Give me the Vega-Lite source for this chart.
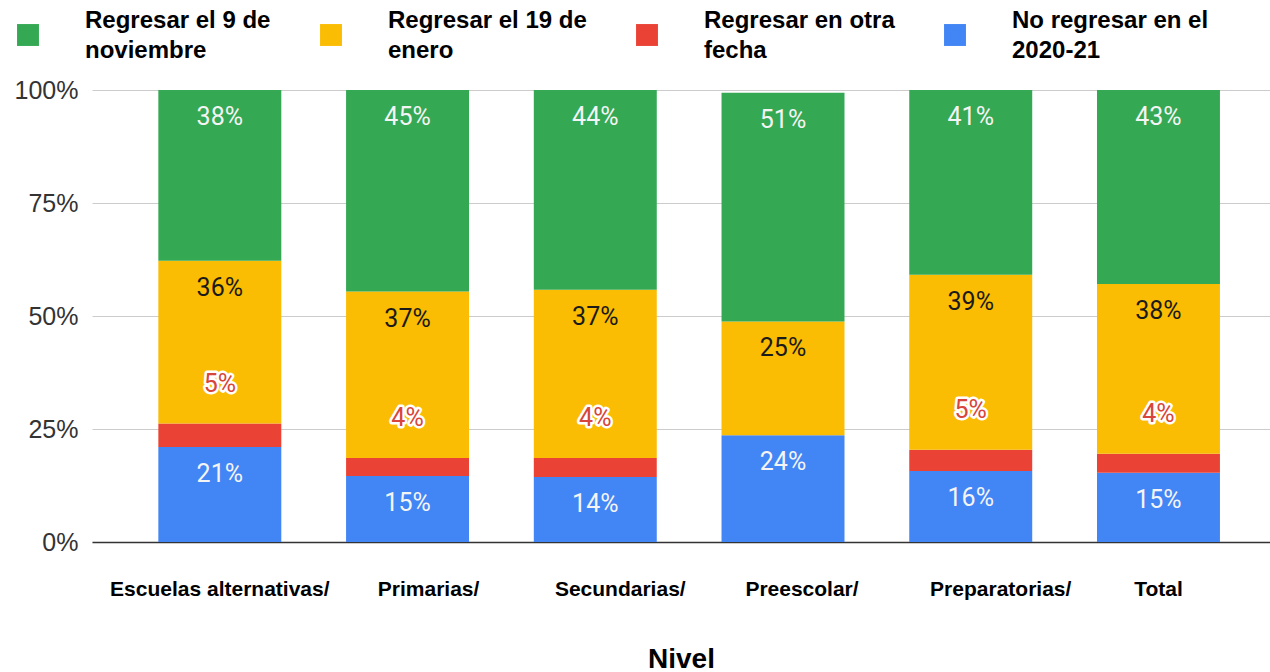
{
  "$schema": "https://vega.github.io/schema/vega-lite/v6.json",
  "width": 1178,
  "height": 452,
  "autosize": {"type": "none"},
  "padding": {"left": 92, "top": 90, "right": 0, "bottom": 130},
  "background": "white",
  "config": {
    "view": {"stroke": null},
    "style": {"guide-label": {"lineHeight": 30}}
  },
  "data": {
    "values": [
      {"nivel": "Escuelas alternativas/", "serie": "No regresar en el 2020-21", "v": 0.21},
      {"nivel": "Escuelas alternativas/", "serie": "Regresar en otra fecha", "v": 0.052},
      {"nivel": "Escuelas alternativas/", "serie": "Regresar el 19 de enero", "v": 0.36},
      {"nivel": "Escuelas alternativas/", "serie": "Regresar el 9 de noviembre", "v": 0.378},
      {"nivel": "Primarias/", "serie": "No regresar en el 2020-21", "v": 0.146},
      {"nivel": "Primarias/", "serie": "Regresar en otra fecha", "v": 0.04},
      {"nivel": "Primarias/", "serie": "Regresar el 19 de enero", "v": 0.368},
      {"nivel": "Primarias/", "serie": "Regresar el 9 de noviembre", "v": 0.446},
      {"nivel": "Secundarias/", "serie": "No regresar en el 2020-21", "v": 0.144},
      {"nivel": "Secundarias/", "serie": "Regresar en otra fecha", "v": 0.042},
      {"nivel": "Secundarias/", "serie": "Regresar el 19 de enero", "v": 0.372},
      {"nivel": "Secundarias/", "serie": "Regresar el 9 de noviembre", "v": 0.442},
      {"nivel": "Preescolar/", "serie": "No regresar en el 2020-21", "v": 0.236},
      {"nivel": "Preescolar/", "serie": "Regresar el 19 de enero", "v": 0.252},
      {"nivel": "Preescolar/", "serie": "Regresar el 9 de noviembre", "v": 0.506},
      {"nivel": "Preparatorias/", "serie": "No regresar en el 2020-21", "v": 0.157},
      {"nivel": "Preparatorias/", "serie": "Regresar en otra fecha", "v": 0.047},
      {"nivel": "Preparatorias/", "serie": "Regresar el 19 de enero", "v": 0.387},
      {"nivel": "Preparatorias/", "serie": "Regresar el 9 de noviembre", "v": 0.409},
      {"nivel": "Total", "serie": "No regresar en el 2020-21", "v": 0.153},
      {"nivel": "Total", "serie": "Regresar en otra fecha", "v": 0.042},
      {"nivel": "Total", "serie": "Regresar el 19 de enero", "v": 0.376},
      {"nivel": "Total", "serie": "Regresar el 9 de noviembre", "v": 0.429}
    ]
  },
  "transform": [
    {"calculate": "indexof(['No regresar en el 2020-21','Regresar en otra fecha','Regresar el 19 de enero','Regresar el 9 de noviembre'], datum.serie)", "as": "o"},
    {"stack": "v", "groupby": ["nivel"], "sort": [{"field": "o", "order": "ascending"}], "as": ["y0", "y1"]}
  ],
  "encoding": {
    "x": {
      "field": "nivel",
      "type": "nominal",
      "sort": null,
      "scale": {"paddingInner": 0.345, "paddingOuter": 0.31, "align": 0.57},
      "axis": {
        "title": "Nivel",
        "titleFont": "Liberation Sans",
        "titleFontWeight": "bold",
        "titleFontSize": 28,
        "titleColor": "black",
        "titlePadding": 46,
        "labelFont": "Liberation Sans",
        "labelFontWeight": "bold",
        "labelFontSize": 21,
        "labelColor": "black",
        "labelAngle": 0,
        "labelPadding": 36,
        "labelLimit": 400,
        "labelOffset": {
          "condition": [
            {"test": "datum.label == 'Primarias/'", "value": 21},
            {"test": "datum.label == 'Secundarias/'", "value": 25},
            {"test": "datum.label == 'Preescolar/'", "value": 19},
            {"test": "datum.label == 'Preparatorias/'", "value": 30}
          ],
          "value": 0
        },
        "ticks": false,
        "domain": true,
        "domainColor": "#333333",
        "domainWidth": 1.5,
        "grid": false
      }
    },
    "y": {
      "field": "y1",
      "type": "quantitative",
      "scale": {"domain": [0, 1]},
      "axis": {
        "title": null,
        "format": ".0%",
        "values": [0, 0.25, 0.5, 0.75, 1],
        "labelFont": "Liberation Sans",
        "labelFontSize": 25,
        "labelColor": "#333333",
        "labelPadding": 14,
        "ticks": false,
        "domain": false,
        "grid": true,
        "gridColor": "#cccccc",
        "gridWidth": 1
      }
    }
  },
  "layer": [
    {
      "mark": {"type": "bar"},
      "encoding": {
        "y2": {"field": "y0"},
        "color": {
          "field": "serie",
          "type": "nominal",
          "scale": {
            "domain": ["Regresar el 9 de noviembre", "Regresar el 19 de enero", "Regresar en otra fecha", "No regresar en el 2020-21"],
            "range": ["#34a853", "#fbbc04", "#ea4335", "#4285f4"]
          },
          "legend": {
            "title": null,
            "orient": "none",
            "legendX": -76,
            "legendY": -67,
            "direction": "horizontal",
            "columns": 4,
            "symbolType": "square",
            "symbolSize": 480,
            "symbolStrokeWidth": 0,
            "symbolOpacity": 1,
            "labelFont": "Liberation Sans",
            "labelFontWeight": "bold",
            "labelFontSize": 24,
            "labelColor": "black",
            "labelOffset": 45,
            "labelLimit": 400,
            "columnPadding": 48,
            "labelExpr": "datum.label == 'Regresar el 9 de noviembre' ? ['Regresar el 9 de', 'noviembre'] : datum.label == 'Regresar el 19 de enero' ? ['Regresar el 19 de', 'enero'] : datum.label == 'Regresar en otra fecha' ? ['Regresar en otra', 'fecha'] : ['No regresar en el', '2020-21']",
            "encode": {"labels": {"update": {"dy": {"value": -14}}}}
          }
        }
      }
    },
    {
      "transform": [{"filter": "datum.serie == 'Regresar el 9 de noviembre' || datum.serie == 'No regresar en el 2020-21'"}],
      "mark": {"type": "text", "baseline": "middle", "dy": 27, "font": "Roboto", "fontSize": 25, "fill": "#f4f4f4"},
      "encoding": {"text": {"field": "v", "format": ".0%"}}
    },
    {
      "transform": [{"filter": "datum.serie == 'Regresar el 19 de enero'"}],
      "mark": {"type": "text", "baseline": "middle", "dy": 27, "font": "Roboto", "fontSize": 25, "fill": "#1a1a1a"},
      "encoding": {"text": {"field": "v", "format": ".0%"}}
    },
    {
      "transform": [{"filter": "datum.serie == 'Regresar en otra fecha'"}],
      "mark": {"type": "text", "baseline": "middle", "dy": -40, "font": "Roboto", "fontSize": 25, "fill": "white", "stroke": "white", "strokeWidth": 5, "strokeJoin": "round"},
      "encoding": {"text": {"field": "v", "format": ".0%"}}
    },
    {
      "transform": [{"filter": "datum.serie == 'Regresar en otra fecha'"}],
      "mark": {"type": "text", "baseline": "middle", "dy": -40, "font": "Roboto", "fontSize": 25, "fill": "#d8453a"},
      "encoding": {"text": {"field": "v", "format": ".0%"}}
    }
  ]
}
